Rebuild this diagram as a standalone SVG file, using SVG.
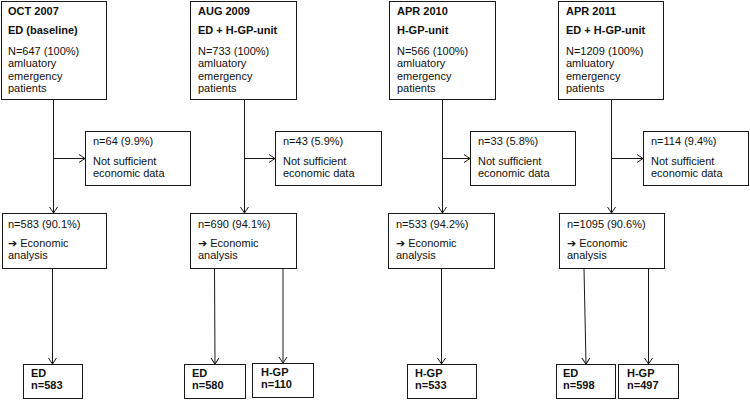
<svg xmlns="http://www.w3.org/2000/svg" width="750" height="400" viewBox="0 0 750 400">
<style>
.box{fill:#fff;stroke:#1a1a1a;stroke-width:1}
text{font-family:"Liberation Sans",Arial,"DejaVu Sans",sans-serif;font-size:11px;fill:#111}
.b{font-weight:bold}
.ar{font-family:"DejaVu Sans",sans-serif;font-weight:bold;font-size:11px}
.ln{fill:none;stroke:#1a1a1a;stroke-width:1}
</style>
<defs>
<marker id="ah" markerUnits="userSpaceOnUse" markerWidth="10" markerHeight="10" refX="7" refY="4.5" orient="auto">
<path d="M1,0.5 L7,4.5 L1,8.5" fill="none" stroke="#1a1a1a" stroke-width="1"/>
</marker>
</defs>
<rect width="750" height="400" fill="#fff"/>
<g id="connectors">
<line class="ln" x1="53.5" y1="99.5" x2="53.5" y2="213" marker-end="url(#ah)"/>
<line class="ln" x1="53.5" y1="158.5" x2="85" y2="158.5" marker-end="url(#ah)"/>
<line class="ln" x1="52.5" y1="268.5" x2="52.5" y2="364" marker-end="url(#ah)"/>
<line class="ln" x1="244.5" y1="99.5" x2="244.5" y2="213" marker-end="url(#ah)"/>
<line class="ln" x1="244.5" y1="158.5" x2="275" y2="158.5" marker-end="url(#ah)"/>
<line class="ln" x1="214.5" y1="268.5" x2="215" y2="364" marker-end="url(#ah)"/>
<line class="ln" x1="283" y1="268.5" x2="283" y2="363" marker-end="url(#ah)"/>
<line class="ln" x1="442.5" y1="99.5" x2="442.5" y2="213" marker-end="url(#ah)"/>
<line class="ln" x1="442.5" y1="158.5" x2="470" y2="158.5" marker-end="url(#ah)"/>
<line class="ln" x1="441.5" y1="268.5" x2="441.5" y2="364" marker-end="url(#ah)"/>
<line class="ln" x1="611.5" y1="99.5" x2="611.5" y2="213" marker-end="url(#ah)"/>
<line class="ln" x1="611.5" y1="158.5" x2="643" y2="158.5" marker-end="url(#ah)"/>
<line class="ln" x1="584" y1="268.5" x2="586" y2="364" marker-end="url(#ah)"/>
<line class="ln" x1="648.5" y1="268.5" x2="648.5" y2="364" marker-end="url(#ah)"/>
</g>
<g id="top1"><rect class="box" x="1.5" y="1.5" width="105" height="98"/>
<text class="b" x="8" y="15">OCT 2007</text><text class="b" x="8" y="34">ED (baseline)</text>
<text x="8" y="55">N=647 (100%)</text><text x="8" y="67">amluatory</text><text x="8" y="79.5">emergency</text><text x="8" y="92">patients</text></g>
<g id="top2"><rect class="box" x="190.5" y="1.5" width="106" height="98"/>
<text class="b" x="198" y="15">AUG 2009</text><text class="b" x="198" y="34">ED + H-GP-unit</text>
<text x="198" y="55">N=733 (100%)</text><text x="198" y="67">amluatory</text><text x="198" y="79.5">emergency</text><text x="198" y="92">patients</text></g>
<g id="top3"><rect class="box" x="389.5" y="1.5" width="106" height="98"/>
<text class="b" x="397" y="15">APR 2010</text><text class="b" x="397" y="34">H-GP-unit</text>
<text x="397" y="55">N=566 (100%)</text><text x="397" y="67">amluatory</text><text x="397" y="79.5">emergency</text><text x="397" y="92">patients</text></g>
<g id="top4"><rect class="box" x="558.5" y="1.5" width="105" height="98"/>
<text class="b" x="566" y="15">APR 2011</text><text class="b" x="566" y="34">ED + H-GP-unit</text>
<text x="566" y="55">N=1209 (100%)</text><text x="566" y="67">amluatory</text><text x="566" y="79.5">emergency</text><text x="566" y="92">patients</text></g>
<g id="excl1"><rect class="box" x="85.5" y="131.5" width="105" height="54"/>
<text x="93" y="145">n=64 (9.9%)</text><text x="93" y="165">Not sufficient</text><text x="93" y="177">economic data</text></g>
<g id="excl2"><rect class="box" x="275.5" y="131.5" width="106" height="54"/>
<text x="283" y="145">n=43 (5.9%)</text><text x="283" y="165">Not sufficient</text><text x="283" y="177">economic data</text></g>
<g id="excl3"><rect class="box" x="470.5" y="131.5" width="105" height="54"/>
<text x="478" y="145">n=33 (5.8%)</text><text x="478" y="165">Not sufficient</text><text x="478" y="177">economic data</text></g>
<g id="excl4"><rect class="box" x="643.5" y="131.5" width="105" height="54"/>
<text x="651" y="145">n=114 (9.4%)</text><text x="651" y="165">Not sufficient</text><text x="651" y="177">economic data</text></g>
<g id="mid1"><rect class="box" x="2.5" y="213.5" width="104" height="55"/>
<text x="8" y="228">n=583 (90.1%)</text><text x="8" y="247"><tspan class="ar">➔</tspan> Economic</text><text x="8" y="259">analysis</text></g>
<g id="mid2"><rect class="box" x="190.5" y="213.5" width="106" height="55"/>
<text x="198" y="228">n=690 (94.1%)</text><text x="198" y="247"><tspan class="ar">➔</tspan> Economic</text><text x="198" y="259">analysis</text></g>
<g id="mid3"><rect class="box" x="388.5" y="213.5" width="106" height="55"/>
<text x="396" y="228">n=533 (94.2%)</text><text x="396" y="247"><tspan class="ar">➔</tspan> Economic</text><text x="396" y="259">analysis</text></g>
<g id="mid4"><rect class="box" x="559.5" y="213.5" width="105" height="55"/>
<text x="567" y="228">n=1095 (90.6%)</text><text x="567" y="247"><tspan class="ar">➔</tspan> Economic</text><text x="567" y="259">analysis</text></g>
<g id="bot1"><rect class="box" x="23.5" y="364.5" width="59" height="34"/>
<text class="b" x="31" y="377">ED</text><text class="b" x="31" y="389">n=583</text></g>
<g id="bot2a"><rect class="box" x="184.5" y="364.5" width="61" height="34"/>
<text class="b" x="192" y="377">ED</text><text class="b" x="192" y="389">n=580</text></g>
<g id="bot2b"><rect class="box" x="252.5" y="363.5" width="61" height="34"/>
<text class="b" x="261" y="376">H-GP</text><text class="b" x="261" y="388">n=110</text></g>
<g id="bot3"><rect class="box" x="407.5" y="364.5" width="69" height="34"/>
<text class="b" x="415" y="377">H-GP</text><text class="b" x="415" y="389">n=533</text></g>
<g id="bot4a"><rect class="box" x="556.5" y="364.5" width="59" height="34"/>
<text class="b" x="563" y="377">ED</text><text class="b" x="563" y="389">n=598</text></g>
<g id="bot4b"><rect class="box" x="618.5" y="364.5" width="60" height="34"/>
<text class="b" x="627" y="377">H-GP</text><text class="b" x="627" y="389">n=497</text></g>
</svg>
